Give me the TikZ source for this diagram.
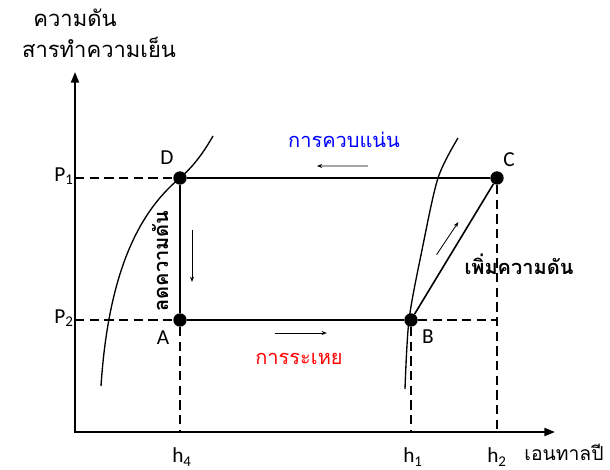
\documentclass[tikz,border=0pt]{standalone}
\usepackage{fontspec}
\setmainfont{Carlito}
\newfontfamily\thaifont[Script=Thai]{Loma}
\usetikzlibrary{arrows.meta, positioning, calc}

\begin{document}
\begin{tikzpicture}[
    x=0.75pt, y=-0.75pt,
    every node/.style={font=\fontsize{16}{18}\selectfont},
    thai/.style={font=\thaifont\fontsize{15}{18}\selectfont},
    thaiaxis/.style={font=\thaifont\fontsize{16.5}{18}\selectfont},
    thaibold/.style={font=\thaifont\bfseries\fontsize{15}{18}\selectfont},
    point/.style={circle, fill=black, inner sep=0pt, minimum size=10pt},
    axis/.style={line width=1.5pt, {Triangle[length=8pt, width=6pt]}-{Triangle[length=8pt, width=6pt]}},
    cycle/.style={line width=1.2pt},
    guide/.style={line width=1pt, dash pattern=on 7pt off 4pt},
    sat/.style={line width=1pt},
    flow/.style={-{Stealth[length=4pt, width=3pt]}, line width=0.6pt}
]
\useasboundingbox (0,0) rectangle (610,470);

% axes
\coordinate (O) at (75,432);
\coordinate (ytop) at (75,72);
\coordinate (xend) at (555,432);
\draw[axis] (ytop) -- (O) -- (xend);
\node[thaiaxis] (ylab1) at (75,18) {ความดัน};
\node[thaiaxis] (ylab2) at (99,47) {สารทำความเย็น};
\node[thai, font=\thaifont\fontsize{14.5}{18}\selectfont, inner sep=1pt] (xlab) at (564,452) {เอนทาลปี};

% state points
\node[point] (D) at (180,178) {};
\node[point] (C) at (497,178) {};
\node[point] (A) at (180,320) {};
\node[point] (B) at (411,320) {};

% guide lines to the axes
\draw[guide] (O |- D) -- (D);
\draw[guide] (O |- A) -- (A);
\draw[guide] (A) -- (A |- O);
\draw[guide] (B) -- (B |- O);
\draw[guide] (B) -- (C |- B);
\draw[guide] (C) -- (C |- O);

% saturation curves
\draw[sat] (101,386) .. controls (108,280) and (135,215) .. (D.center)
    .. controls (195,165) and (205,150) .. (213,136);
\draw[sat] plot[smooth] coordinates {(405,389) (409,320) (422,250) (438,178) (458,138)};

% cycle
\draw[cycle] (D) -- (C);
\draw[cycle] (D) -- (A);
\draw[cycle] (A) -- (B);
\draw[cycle] (B) -- (C);

% direction arrows
\draw[flow] ($(D)!0.593!(C)+(0,-12)$) -- ($(D)!0.432!(C)+(0,-12)$);
\draw[flow] ($(A)!0.411!(B)+(0,13)$) -- ($(A)!0.636!(B)+(0,13)$);
\draw[flow] ($(D)!0.366!(A)+(12,0)$) -- ($(D)!0.732!(A)+(12,0)$);
\draw[flow] ($(B)!0.46!(C)+(-14,0)$) -- ($(B)!0.69!(C)+(-12,0)$);

% point labels
\node (labD) at (167,158) {D};
\node (labC) at (509,160) {C};
\node (labA) at (163,338) {A};
\node (labB) at (428,337) {B};
\node (labP1) at (64,176) {P\textsubscript{1}};
\node (labP2) at (64,318) {P\textsubscript{2}};
\node (labh4) at (182,457) {h\textsubscript{4}};
\node (labh1) at (413,457) {h\textsubscript{1}};
\node (labh2) at (497,457) {h\textsubscript{2}};

% process labels
\node[thai, text=blue] (cond) at (344,140) {การควบแน่น};
\node[thai, text=red] (evap) at (299,359) {การระเหย};
\node[thaibold, rotate=90] (expa) at (160,261) {ลดความดัน};
\node[thaibold] (comp) at (519,264) {เพิ่มความดัน};

\end{tikzpicture}
\end{document}
